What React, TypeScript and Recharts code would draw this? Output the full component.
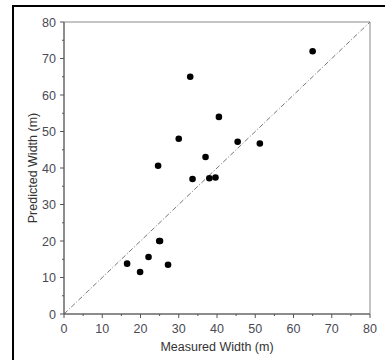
import React from 'react';
import { ScatterChart, Scatter, XAxis, YAxis, ReferenceLine, ReferenceArea, Label } from 'recharts';

const measured = [65, 33, 40.5, 30, 45.4, 51.2, 24.6, 37, 33.6, 38, 39.6, 24.9, 25.1, 22.1, 16.5, 19.9, 27.2];
const predicted = [72, 65, 54, 48, 47.2, 46.7, 40.6, 43, 37, 37.2, 37.4, 20, 20, 15.6, 13.8, 11.5, 13.5];
const axisTicks = [0, 5, 10, 15, 20, 25, 30, 35, 40, 45, 50, 55, 60, 65, 70, 75, 80];

const data = measured.map((m, i) => ({ x: m, y: predicted[i] }));

const FONT = '"Liberation Sans", Arial, sans-serif';

const XTick = (props: any) => {
  const { x, y, payload } = props;
  const major = payload.value % 10 === 0;
  return (
    <g>
      <line x1={x} x2={x} y1={y} y2={y + (major ? 4 : 2)} stroke="#555" />
      {major && (
        <text x={x} y={y + 19} textAnchor="middle" fill="#4a4a55" fontSize={12.5} fontFamily={FONT}>
          {payload.value}
        </text>
      )}
    </g>
  );
};

const YTick = (props: any) => {
  const { x, y, payload } = props;
  const major = payload.value % 10 === 0;
  return (
    <g>
      <line x1={x - (major ? 4 : 2)} x2={x} y1={y} y2={y} stroke="#555" />
      {major && (
        <text x={x - 8} y={y + 4.5} textAnchor="end" fill="#4a4a55" fontSize={12.5} fontFamily={FONT}>
          {payload.value}
        </text>
      )}
    </g>
  );
};

const Dot = (p: any) => <circle cx={p.cx} cy={p.cy} r={3.3} fill="#000" />;

export default function App() {
  return (
    <div style={{ position: 'absolute', left: 0, top: 0, width: 385, height: 360, overflow: 'hidden', background: '#fff' }}>
      <div
        style={{
          position: 'absolute',
          left: 12,
          top: 5,
          width: 400,
          height: 400,
          borderLeft: '2px solid #000',
          borderTop: '2px solid #000',
        }}
      />
      <div style={{ position: 'absolute', left: 0, top: 0 }}>
        <ScatterChart width={385} height={360} margin={{ top: 22, right: 15, bottom: 6, left: 2 }}>
          <ReferenceArea x1={0} x2={80} y1={0} y2={80} fill="none" stroke="#8a8a8a" strokeWidth={1} fillOpacity={0} />
          <XAxis
            type="number"
            dataKey="x"
            domain={[0, 80]}
            ticks={axisTicks}
            interval={0}
            height={40}
            tickSize={0}
            tickMargin={0}
            tick={<XTick />}
            axisLine={{ stroke: '#555' }}
            tickLine={false}
          >
            <Label value="Measured Width (m)" position="insideBottom" offset={3} fill="#333" fontSize={12.5} fontFamily={FONT} />
          </XAxis>
          <YAxis
            type="number"
            dataKey="y"
            domain={[0, 80]}
            ticks={axisTicks}
            interval={0}
            width={62}
            tickSize={0}
            tickMargin={0}
            tick={<YTick />}
            axisLine={{ stroke: '#555' }}
            tickLine={false}
          >
            <Label value="Predicted Width (m)" position="center" angle={-90} fill="#333" fontSize={12.5} fontFamily={FONT} />
          </YAxis>
          <ReferenceLine
            segment={[{ x: 0, y: 0 }, { x: 80, y: 80 }]}
            stroke="#777"
            strokeWidth={1}
            strokeDasharray="5 2 1 2"
          />
          <Scatter data={data} shape={<Dot />} isAnimationActive={false} />
        </ScatterChart>
      </div>
    </div>
  );
}
